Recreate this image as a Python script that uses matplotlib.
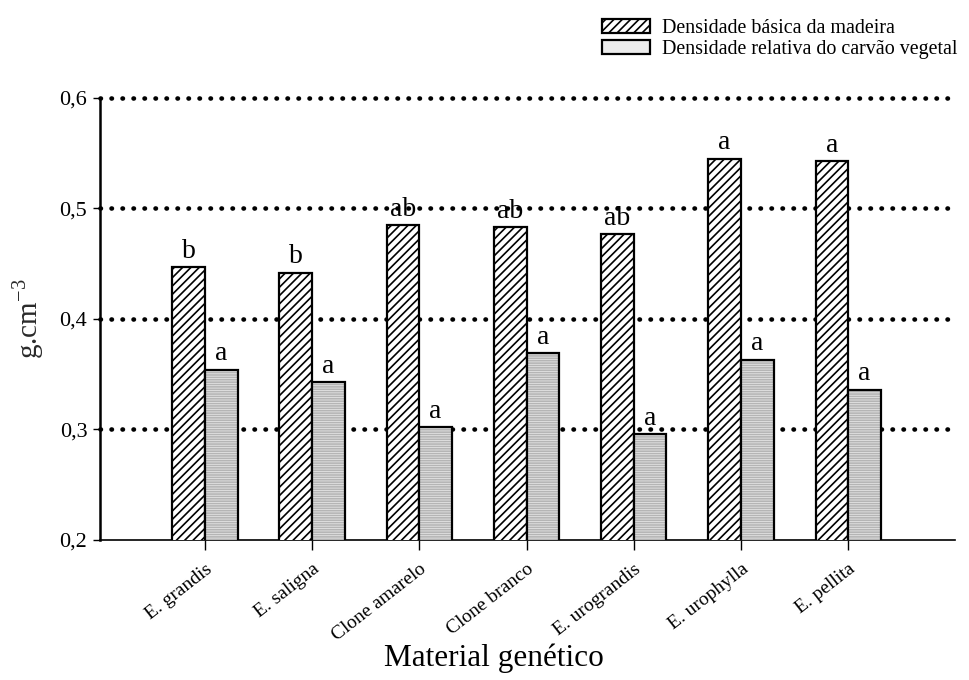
import matplotlib.pyplot as plt
import numpy as np
from matplotlib.patches import Patch

plt.rcParams['font.family'] = ['Liberation Serif', 'DejaVu Serif']
plt.rcParams['mathtext.fontset'] = 'custom'
plt.rcParams['mathtext.rm'] = 'Liberation Serif'
plt.rcParams['hatch.linewidth'] = 1.2

# data
materials = ['E. grandis', 'E. saligna', 'Clone amarelo', 'Clone branco',
             'E. urograndis', 'E. urophylla', 'E. pellita']
madeira = [0.447, 0.442, 0.485, 0.483, 0.477, 0.545, 0.543]
carvao = [0.354, 0.343, 0.302, 0.369, 0.296, 0.363, 0.336]
letras_madeira = ['b', 'b', 'ab', 'ab', 'ab', 'a', 'a']
letras_carvao = ['a', 'a', 'a', 'a', 'a', 'a', 'a']

x = np.arange(len(materials))
w = 0.305

fig = plt.figure(figsize=(9.69, 6.8), dpi=100)
ax = fig.add_axes([0.103, 0.206, 0.883, 0.650])

# dotted grid lines behind bars
for v in [0.3, 0.4, 0.5, 0.6]:
    ax.axhline(v, color='black', linestyle=(0, (0.1, 2.3)), linewidth=3.3,
               dash_capstyle='round', zorder=1, clip_on=False)

# wood density bars (diagonal hatch)
ax.bar(x - w / 2, madeira, w, facecolor='white',
       edgecolor='black', hatch='////', linewidth=1.6, zorder=3)

# charcoal density bars (light gray, fine horizontal lines)
ax.bar(x + w / 2, carvao, w, facecolor='#ececec', edgecolor='#b5b5b5',
       hatch='-------', linewidth=0, zorder=3)
ax.bar(x + w / 2, carvao, w, facecolor='none', edgecolor='black',
       linewidth=1.6, zorder=4)

for xi, v, t in zip(x, madeira, letras_madeira):
    ax.text(xi - w / 2, v + 0.003, t, ha='center', va='bottom', fontsize=20)
for xi, v, t in zip(x, carvao, letras_carvao):
    ax.text(xi + w / 2, v + 0.003, t, ha='center', va='bottom', fontsize=20)

ax.set_ylim(0.2, 0.6)
ax.set_xlim(-0.98, 7.0)
ax.set_yticks([0.2, 0.3, 0.4, 0.5, 0.6])
ax.set_yticklabels(['0,2', '0,3', '0,4', '0,5', '0,6'], fontsize=16)
ax.set_xticks(x)
ax.set_xticklabels(materials, rotation=38, ha='right', rotation_mode='anchor',
                   fontsize=14)
ax.tick_params(axis='x', length=7, width=1, direction='out', pad=8)
ax.tick_params(axis='y', length=5, width=1, direction='out', pad=4)

ax.spines['top'].set_visible(False)
ax.spines['right'].set_visible(False)
ax.spines['left'].set_linewidth(1.8)
ax.spines['bottom'].set_linewidth(1.2)

ax.set_ylabel(r'g.cm$^{\mathregular{-3}}$', fontsize=21, color='#2a2a2a', labelpad=10)
fig.text(0.51, 0.032, 'Material genético', fontsize=22.5, ha='center', va='center')

handles = [Patch(facecolor='white', edgecolor='black', hatch='////', linewidth=1.6),
           Patch(facecolor='#ececec', edgecolor='black', linewidth=1.6)]
fig.legend(handles, ['Densidade básica da madeira', 'Densidade relativa do carvão vegetal'],
           loc='upper right', bbox_to_anchor=(1.0, 0.99), frameon=False,
           fontsize=14.4, handlelength=2.4, handleheight=0.7, labelspacing=0.1,
           handletextpad=0.6, borderaxespad=0.2)

fig.savefig('out.png', dpi=100)
